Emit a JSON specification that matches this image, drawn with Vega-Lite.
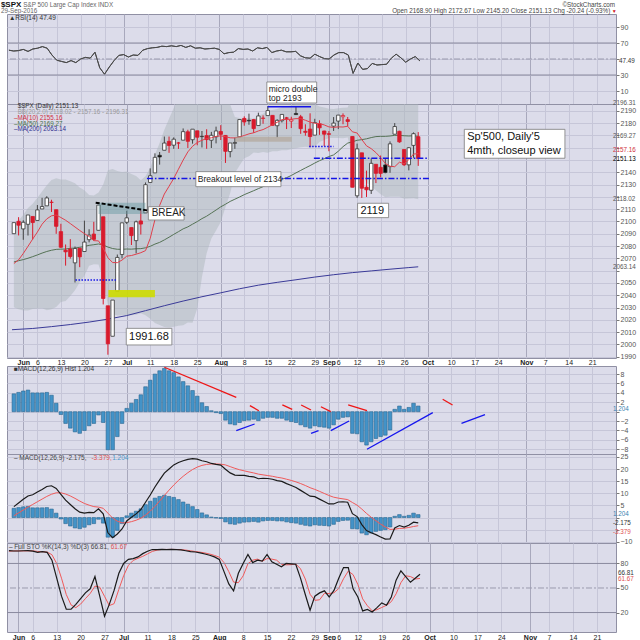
{
"$schema":"https://vega.github.io/schema/vega-lite/v6.json",
"padding":0,
"background":"white",
"datasets":{
"px":[
{"d":-2,"o":2090.06,"h":2099.06,"l":2090.06,"c":2099.06,"dir":"up","ma10":2065.8,"bbl":2030.2,"bbu":2097.7,"ma50":2067.1,"rsi":61,"hist":3.8,"macd":4.5,"sig":0.7,"k":95.6,"dk":95.0},
{"d":-1,"o":2100.13,"h":2103.48,"l":2088.66,"c":2096.95,"dir":"dn","ma10":2068.8,"bbl":2028.7,"bbu":2100.8,"ma50":2068.1,"rsi":60,"hist":4.1,"macd":6.0,"sig":1.9,"k":95.2,"dk":95.3},
{"d":0,"o":2093.94,"h":2100.97,"l":2085.10,"c":2099.33,"dir":"up","ma10":2074.0,"bbl":2027.6,"bbu":2105.5,"ma50":2069.0,"rsi":60.5,"hist":4.4,"macd":7.5,"sig":3.1,"k":95.2,"dk":95.3},
{"d":1,"o":2097.71,"h":2105.26,"l":2088.59,"c":2105.26,"dir":"up","ma10":2079.8,"bbl":2027.6,"bbu":2110.9,"ma50":2070.1,"rsi":62,"hist":4.6,"macd":8.9,"sig":4.3,"k":95.5,"dk":95.3},
{"d":2,"o":2104.07,"h":2104.07,"l":2085.36,"c":2099.13,"dir":"dn","ma10":2085.7,"bbl":2028.9,"bbu":2114.4,"ma50":2071.4,"rsi":59.5,"hist":4.0,"macd":9.4,"sig":5.4,"k":95.6,"dk":95.4},
{"d":3,"o":2100.83,"h":2113.36,"l":2100.83,"c":2109.41,"dir":"up","ma10":2091.4,"bbl":2029.2,"bbu":2119.3,"ma50":2072.8,"rsi":62.5,"hist":4.0,"macd":10.5,"sig":6.5,"k":95.0,"dk":95.4},
{"d":4,"o":2110.18,"h":2119.22,"l":2110.18,"c":2112.13,"dir":"up","ma10":2097.8,"bbl":2029.5,"bbu":2124.3,"ma50":2074.3,"rsi":63.5,"hist":4.0,"macd":11.6,"sig":7.6,"k":93.6,"dk":94.7},
{"d":5,"o":2112.71,"h":2120.55,"l":2112.71,"c":2119.12,"dir":"up","ma10":2102.1,"bbl":2027.9,"bbu":2129.4,"ma50":2075.6,"rsi":65.5,"hist":4.1,"macd":12.8,"sig":8.7,"k":94.4,"dk":94.3},
{"d":6,"o":2115.65,"h":2117.64,"l":2107.73,"c":2115.48,"dir":"dn","ma10":2104.6,"bbl":2028.6,"bbu":2133.8,"ma50":2076.6,"rsi":63.5,"hist":3.5,"macd":13.1,"sig":9.6,"k":93.6,"dk":93.9},
{"d":7,"o":2109.57,"h":2109.57,"l":2089.96,"c":2096.07,"dir":"dn","ma10":2105.2,"bbl":2030.4,"bbu":2135.2,"ma50":2077.3,"rsi":55,"hist":1.8,"macd":12.0,"sig":10.2,"k":84,"dk":90.7},
{"d":8,"o":2091.75,"h":2098.12,"l":2078.46,"c":2079.06,"dir":"dn","ma10":2103.2,"bbl":2034.6,"bbu":2134.2,"ma50":2077.5,"rsi":48.5,"hist":-0.6,"macd":9.6,"sig":10.2,"k":62,"dk":79.9},
{"d":9,"o":2076.65,"h":2081.30,"l":2064.10,"c":2075.32,"dir":"dn","ma10":2101.0,"bbl":2035.4,"bbu":2134.2,"ma50":2077.6,"rsi":47,"hist":-2.5,"macd":7.2,"sig":9.7,"k":40,"dk":62},
{"d":10,"o":2077.60,"h":2085.65,"l":2069.80,"c":2071.50,"dir":"dn","ma10":2098.3,"bbl":2039.4,"bbu":2132.7,"ma50":2078.2,"rsi":45.5,"hist":-3.5,"macd":5.4,"sig":8.9,"k":24,"dk":42},
{"d":11,"o":2066.36,"h":2079.62,"l":2050.37,"c":2077.99,"dir":"up","ma10":2095.5,"bbl":2044.1,"bbu":2131.1,"ma50":2078.4,"rsi":48,"hist":-4.3,"macd":3.6,"sig":7.9,"k":24,"dk":29.3},
{"d":12,"o":2078.20,"h":2078.20,"l":2062.84,"c":2071.22,"dir":"dn","ma10":2092.7,"bbl":2050.6,"bbu":2127.6,"ma50":2079.0,"rsi":45.5,"hist":-4.6,"macd":2.2,"sig":6.8,"k":30,"dk":26},
{"d":13,"o":2075.58,"h":2100.66,"l":2075.58,"c":2083.25,"dir":"up","ma10":2090.1,"bbl":2055.9,"bbu":2125.4,"ma50":2079.7,"rsi":50,"hist":-4.0,"macd":1.8,"sig":5.8,"k":37,"dk":30.3},
{"d":14,"o":2085.19,"h":2093.66,"l":2083.02,"c":2088.90,"dir":"up","ma10":2087.8,"bbl":2063.9,"bbu":2121.5,"ma50":2080.6,"rsi":52,"hist":-3.0,"macd":2.1,"sig":5.1,"k":44,"dk":37},
{"d":15,"o":2089.75,"h":2099.71,"l":2084.36,"c":2085.45,"dir":"dn","ma10":2084.4,"bbl":2065.2,"bbu":2121.1,"ma50":2081.1,"rsi":51,"hist":-2.5,"macd":2.0,"sig":4.5,"k":49,"dk":43.3},
{"d":16,"o":2092.80,"h":2113.32,"l":2092.80,"c":2113.32,"dir":"up","ma10":2084.2,"bbl":2065.0,"bbu":2123.5,"ma50":2081.7,"rsi":58.5,"hist":-0.7,"macd":3.6,"sig":4.3,"k":64,"dk":52.3},
{"d":17,"o":2103.81,"h":2103.81,"l":2032.57,"c":2037.41,"dir":"dn","ma10":2078.3,"bbl":2053.1,"bbu":2130.1,"ma50":2080.8,"rsi":39,"hist":-2.3,"macd":1.5,"sig":3.8,"k":40,"dk":51},
{"d":18,"o":2031.45,"h":2031.45,"l":1991.68,"c":2000.54,"dir":"dn","ma10":2070.5,"bbl":2031.8,"bbu":2141.6,"ma50":2079.2,"rsi":31,"hist":-8.1,"macd":-6.3,"sig":1.8,"k":15.5,"dk":39.8},
{"d":19,"o":2006.67,"h":2036.09,"l":2006.67,"c":2036.09,"dir":"up","ma10":2066.6,"bbl":2024.7,"bbu":2142.6,"ma50":2078.0,"rsi":40,"hist":-8.1,"macd":-8.3,"sig":-0.2,"k":30,"dk":28.5},
{"d":20,"o":2043.29,"h":2073.13,"l":2043.29,"c":2070.77,"dir":"up","ma10":2066.5,"bbl":2023.5,"bbu":2141.0,"ma50":2077.4,"rsi":48,"hist":-5.3,"macd":-6.8,"sig":-1.5,"k":47,"dk":30.8},
{"d":21,"o":2073.17,"h":2098.94,"l":2070.00,"c":2098.86,"dir":"up","ma10":2068.6,"bbl":2023.7,"bbu":2140.3,"ma50":2077.4,"rsi":54.5,"hist":-2.5,"macd":-4.7,"sig":-2.2,"k":68,"dk":48.3},
{"d":22,"o":2099.34,"h":2108.71,"l":2097.90,"c":2102.95,"dir":"up","ma10":2071.8,"bbl":2023.6,"bbu":2140.7,"ma50":2077.6,"rsi":55.5,"hist":0.7,"macd":-1.4,"sig":-2.1,"k":80,"dk":65},
{"d":23,"o":2095.05,"h":2095.05,"l":2080.86,"c":2088.55,"dir":"dn","ma10":2072.3,"bbl":2023.8,"bbu":2138.5,"ma50":2077.5,"rsi":52.5,"hist":1.8,"macd":0.1,"sig":-1.7,"k":85,"dk":77.7},
{"d":24,"o":2084.43,"h":2100.72,"l":2074.02,"c":2099.73,"dir":"up","ma10":2073.4,"bbl":2024.2,"bbu":2136.9,"ma50":2077.8,"rsi":55,"hist":2.6,"macd":1.5,"sig":-1.1,"k":86,"dk":83.7},
{"d":25,"o":2100.42,"h":2109.08,"l":2089.39,"c":2097.90,"dir":"dn","ma10":2074.6,"bbl":2025.4,"bbu":2133.6,"ma50":2077.9,"rsi":54.5,"hist":3.6,"macd":3.3,"sig":-0.3,"k":88,"dk":86.3},
{"d":26,"o":2106.97,"h":2131.71,"l":2106.97,"c":2129.90,"dir":"up","ma10":2076.3,"bbl":2023.8,"bbu":2136.7,"ma50":2078.6,"rsi":61,"hist":5.3,"macd":6.3,"sig":1.0,"k":92,"dk":88.7},
{"d":27,"o":2131.72,"h":2143.16,"l":2131.72,"c":2137.16,"dir":"up","ma10":2086.3,"bbl":2020.9,"bbu":2143.7,"ma50":2079.8,"rsi":63,"hist":6.7,"macd":9.3,"sig":2.6,"k":95,"dk":91.7},
{"d":28,"o":2139.50,"h":2155.40,"l":2139.50,"c":2152.14,"dir":"up","ma10":2101.4,"bbl":2017.5,"bbu":2154.4,"ma50":2081.6,"rsi":64,"hist":8.0,"macd":12.6,"sig":4.6,"k":97,"dk":94.7},
{"d":29,"o":2153.81,"h":2156.45,"l":2146.21,"c":2152.43,"dir":"up","ma10":2113.0,"bbl":2015.8,"bbu":2163.8,"ma50":2083.0,"rsi":64.5,"hist":8.7,"macd":15.5,"sig":6.8,"k":97,"dk":96.3},
{"d":30,"o":2157.88,"h":2169.05,"l":2157.88,"c":2163.75,"dir":"up","ma10":2122.3,"bbl":2014.3,"bbu":2174.5,"ma50":2085.0,"rsi":66,"hist":9.2,"macd":18.3,"sig":9.1,"k":97.3,"dk":97.1},
{"d":31,"o":2165.13,"h":2169.05,"l":2155.79,"c":2161.74,"dir":"dn","ma10":2128.6,"bbl":2013.7,"bbu":2183.5,"ma50":2087.2,"rsi":65.5,"hist":8.7,"macd":20.0,"sig":11.3,"k":97,"dk":97.1},
{"d":32,"o":2162.04,"h":2168.35,"l":2159.07,"c":2166.89,"dir":"up","ma10":2135.0,"bbl":2014.5,"bbu":2192.3,"ma50":2089.5,"rsi":66.5,"hist":8.3,"macd":21.7,"sig":13.4,"k":97.3,"dk":97.2},
{"d":33,"o":2163.79,"h":2164.63,"l":2159.01,"c":2163.78,"dir":"dn","ma10":2142.5,"bbl":2015.3,"bbu":2199.6,"ma50":2091.7,"rsi":65.5,"hist":7.4,"macd":22.7,"sig":15.3,"k":97,"dk":97.1},
{"d":34,"o":2166.10,"h":2175.63,"l":2166.10,"c":2173.02,"dir":"up","ma10":2149.9,"bbl":2015.7,"bbu":2207.6,"ma50":2094.0,"rsi":67,"hist":6.4,"macd":23.4,"sig":17.0,"k":96.5,"dk":96.9},
{"d":35,"o":2172.91,"h":2174.56,"l":2159.75,"c":2165.17,"dir":"dn","ma10":2156.6,"bbl":2017.8,"bbu":2213.5,"ma50":2095.6,"rsi":64.5,"hist":5.5,"macd":24.0,"sig":18.5,"k":95.5,"dk":96.3},
{"d":36,"o":2166.47,"h":2175.11,"l":2163.24,"c":2175.03,"dir":"up","ma10":2161.1,"bbl":2017.6,"bbu":2219.9,"ma50":2097.8,"rsi":66.5,"hist":4.5,"macd":24.3,"sig":19.8,"k":94.4,"dk":95.5},
{"d":37,"o":2173.71,"h":2173.71,"l":2161.95,"c":2168.48,"dir":"dn","ma10":2164.2,"bbl":2029.3,"bbu":2221.3,"ma50":2099.9,"rsi":63.5,"hist":3.3,"macd":24.1,"sig":20.8,"k":94,"dk":94.6},
{"d":38,"o":2168.97,"h":2173.54,"l":2160.18,"c":2169.18,"dir":"up","ma10":2166.0,"bbl":2054.8,"bbu":2212.6,"ma50":2102.3,"rsi":64,"hist":1.9,"macd":23.4,"sig":21.5,"k":93,"dk":93.8},
{"d":39,"o":2169.81,"h":2174.98,"l":2159.07,"c":2166.58,"dir":"dn","ma10":2167.4,"bbl":2074.2,"bbu":2206.3,"ma50":2104.3,"rsi":62.5,"hist":1.1,"macd":23.0,"sig":21.9,"k":91.5,"dk":92.8},
{"d":40,"o":2166.05,"h":2172.85,"l":2159.74,"c":2170.06,"dir":"up","ma10":2168.0,"bbl":2086.2,"bbu":2204.2,"ma50":2106.8,"rsi":63,"hist":0.2,"macd":22.3,"sig":22.1,"k":90,"dk":91.5},
{"d":41,"o":2168.83,"h":2177.09,"l":2163.49,"c":2173.60,"dir":"up","ma10":2169.2,"bbl":2092.7,"bbu":2205.2,"ma50":2109.3,"rsi":63.5,"hist":-0.2,"macd":21.9,"sig":22.1,"k":88,"dk":89.8},
{"d":42,"o":2173.15,"h":2178.29,"l":2166.21,"c":2170.84,"dir":"dn","ma10":2169.6,"bbl":2099.5,"bbu":2205.2,"ma50":2111.9,"rsi":62,"hist":-0.4,"macd":21.6,"sig":22.0,"k":85,"dk":87.7},
{"d":43,"o":2169.94,"h":2170.20,"l":2147.58,"c":2157.03,"dir":"dn","ma10":2168.9,"bbl":2111.6,"bbu":2199.9,"ma50":2114.0,"rsi":56.5,"hist":-1.8,"macd":19.9,"sig":21.7,"k":70,"dk":81},
{"d":44,"o":2156.81,"h":2163.79,"l":2152.14,"c":2163.79,"dir":"up","ma10":2168.0,"bbl":2122.9,"bbu":2195.1,"ma50":2116.3,"rsi":58,"hist":-2.6,"macd":18.4,"sig":21.0,"k":55,"dk":70},
{"d":45,"o":2163.51,"h":2168.19,"l":2159.07,"c":2164.25,"dir":"up","ma10":2167.9,"bbl":2139.4,"bbu":2184.9,"ma50":2118.1,"rsi":58.5,"hist":-2.8,"macd":17.5,"sig":20.3,"k":46.5,"dk":57.2},
{"d":46,"o":2168.79,"h":2182.87,"l":2168.79,"c":2182.87,"dir":"up","ma10":2168.7,"bbl":2145.6,"bbu":2184.2,"ma50":2119.9,"rsi":63,"hist":-2.3,"macd":17.4,"sig":19.7,"k":68,"dk":56.5},
{"d":47,"o":2183.76,"h":2185.44,"l":2177.85,"c":2180.89,"dir":"dn","ma10":2169.9,"bbl":2151.3,"bbu":2182.9,"ma50":2121.8,"rsi":62,"hist":-1.9,"macd":17.35,"sig":19.25,"k":80,"dk":64.8},
{"d":48,"o":2182.24,"h":2187.66,"l":2178.61,"c":2181.74,"dir":"up","ma10":2171.2,"bbl":2153.1,"bbu":2184.1,"ma50":2123.4,"rsi":62.5,"hist":-1.8,"macd":17.0,"sig":18.8,"k":91,"dk":79.7},
{"d":49,"o":2182.81,"h":2183.41,"l":2172.00,"c":2175.49,"dir":"dn","ma10":2172.1,"bbl":2156.1,"bbu":2183.4,"ma50":2125.0,"rsi":60,"hist":-1.6,"macd":16.8,"sig":18.4,"k":81,"dk":84},
{"d":50,"o":2177.97,"h":2188.45,"l":2177.97,"c":2185.79,"dir":"up","ma10":2173.6,"bbl":2155.7,"bbu":2186.0,"ma50":2126.7,"rsi":64,"hist":-1.9,"macd":16.0,"sig":17.9,"k":84,"dk":85.3},
{"d":51,"o":2183.74,"h":2186.28,"l":2179.42,"c":2184.05,"dir":"dn","ma10":2174.7,"bbl":2156.4,"bbu":2187.5,"ma50":2128.3,"rsi":63,"hist":-1.4,"macd":16.2,"sig":17.6,"k":83,"dk":82.7},
{"d":52,"o":2186.08,"h":2193.81,"l":2186.08,"c":2190.15,"dir":"up","ma10":2176.6,"bbl":2155.9,"bbu":2190.3,"ma50":2130.1,"rsi":64.5,"hist":-1.2,"macd":16.1,"sig":17.3,"k":91,"dk":86},
{"d":53,"o":2186.24,"h":2186.24,"l":2178.14,"c":2178.15,"dir":"dn","ma10":2178.7,"bbl":2157.0,"bbu":2190.6,"ma50":2131.5,"rsi":58,"hist":-1.2,"macd":15.8,"sig":17.0,"k":82,"dk":85.3},
{"d":54,"o":2177.84,"h":2183.08,"l":2168.50,"c":2182.22,"dir":"up","ma10":2180.6,"bbl":2157.0,"bbu":2191.5,"ma50":2132.9,"rsi":60,"hist":-1.4,"macd":15.2,"sig":16.6,"k":79,"dk":84},
{"d":55,"o":2181.90,"h":2187.03,"l":2180.46,"c":2187.02,"dir":"up","ma10":2182.8,"bbl":2157.8,"bbu":2192.9,"ma50":2134.3,"rsi":61,"hist":-1.4,"macd":14.9,"sig":16.3,"k":76,"dk":79},
{"d":56,"o":2184.24,"h":2185.00,"l":2175.13,"c":2183.87,"dir":"dn","ma10":2182.9,"bbl":2157.9,"bbu":2193.7,"ma50":2135.6,"rsi":59,"hist":-1.8,"macd":14.0,"sig":15.8,"k":80,"dk":78.3},
{"d":57,"o":2181.58,"h":2185.15,"l":2175.96,"c":2182.64,"dir":"dn","ma10":2183.1,"bbl":2158.8,"bbu":2194.3,"ma50":2137.4,"rsi":59,"hist":-2.1,"macd":13.2,"sig":15.3,"k":79.5,"dk":78.5},
{"d":58,"o":2187.81,"h":2193.42,"l":2186.80,"c":2186.90,"dir":"up","ma10":2183.6,"bbl":2159.5,"bbu":2195.4,"ma50":2139.5,"rsi":59.5,"hist":-2.3,"macd":12.4,"sig":14.7,"k":79,"dk":79.5},
{"d":59,"o":2185.09,"h":2186.66,"l":2171.25,"c":2175.44,"dir":"dn","ma10":2183.6,"bbl":2160.4,"bbu":2195.3,"ma50":2141.5,"rsi":54,"hist":-2.8,"macd":11.2,"sig":14.0,"k":62,"dk":73.5},
{"d":60,"o":2173.29,"h":2179.00,"l":2169.74,"c":2172.47,"dir":"dn","ma10":2182.3,"bbl":2160.7,"bbu":2195.2,"ma50":2143.5,"rsi":51.5,"hist":-3.2,"macd":10.0,"sig":13.2,"k":42,"dk":61},
{"d":61,"o":2175.10,"h":2187.94,"l":2160.39,"c":2169.04,"dir":"dn","ma10":2180.8,"bbl":2160.1,"bbu":2195.3,"ma50":2145.4,"rsi":51,"hist":-3.5,"macd":8.8,"sig":12.3,"k":22.8,"dk":42.3},
{"d":62,"o":2170.19,"h":2183.48,"l":2170.19,"c":2180.38,"dir":"up","ma10":2179.8,"bbl":2160.8,"bbu":2195.5,"ma50":2147.5,"rsi":56,"hist":-3.0,"macd":8.6,"sig":11.6,"k":40,"dk":34.9},
{"d":63,"o":2179.45,"h":2182.27,"l":2170.41,"c":2176.12,"dir":"dn","ma10":2179.6,"bbl":2164.7,"bbu":2193.5,"ma50":2149.4,"rsi":53,"hist":-3.2,"macd":7.6,"sig":10.8,"k":44,"dk":35.6},
{"d":64,"o":2173.56,"h":2173.79,"l":2161.35,"c":2170.95,"dir":"dn","ma10":2178.5,"bbl":2166.2,"bbu":2192.7,"ma50":2151.0,"rsi":50.5,"hist":-3.3,"macd":6.65,"sig":9.95,"k":46.5,"dk":43.5},
{"d":65,"o":2171.33,"h":2173.56,"l":2157.09,"c":2170.86,"dir":"dn","ma10":2176.9,"bbl":2167.9,"bbu":2191.7,"ma50":2152.8,"rsi":50,"hist":-3.5,"macd":5.6,"sig":9.1,"k":39,"dk":43.2},
{"d":66,"o":2177.49,"h":2184.87,"l":2173.59,"c":2179.98,"dir":"up","ma10":2176.5,"bbl":2167.8,"bbu":2191.5,"ma50":2154.1,"rsi":55,"hist":-2.8,"macd":5.6,"sig":8.4,"k":47,"dk":44.2},
{"d":67,"o":2181.61,"h":2186.57,"l":2175.10,"c":2186.48,"dir":"up","ma10":2176.9,"bbl":2167.8,"bbu":2192.0,"ma50":2157.1,"rsi":58,"hist":-1.6,"macd":6.4,"sig":8.0,"k":62,"dk":49.3},
{"d":68,"o":2185.17,"h":2187.87,"l":2179.07,"c":2186.16,"dir":"dn","ma10":2176.8,"bbl":2167.7,"bbu":2192.5,"ma50":2160.8,"rsi":58,"hist":-1.2,"macd":6.5,"sig":7.7,"k":75,"dk":61.3},
{"d":69,"o":2182.76,"h":2184.94,"l":2177.49,"c":2181.30,"dir":"dn","ma10":2177.4,"bbl":2168.2,"bbu":2192.6,"ma50":2163.7,"rsi":55,"hist":-1.1,"macd":6.3,"sig":7.4,"k":75,"dk":70.7},
{"d":70,"o":2169.08,"h":2169.08,"l":2127.81,"c":2127.81,"dir":"dn","ma10":2172.9,"bbl":2151.9,"bbu":2203.1,"ma50":2164.8,"rsi":32,"hist":-4.6,"macd":1.6,"sig":6.2,"k":49,"dk":66.3},
{"d":71,"o":2120.86,"h":2163.30,"l":2119.12,"c":2159.04,"dir":"up","ma10":2171.9,"bbl":2149.6,"bbu":2202.9,"ma50":2166.0,"rsi":45,"hist":-4.7,"macd":0.4,"sig":5.1,"k":39,"dk":54.3},
{"d":72,"o":2155.81,"h":2155.81,"l":2119.12,"c":2127.02,"dir":"dn","ma10":2166.6,"bbl":2139.7,"bbu":2206.5,"ma50":2166.5,"rsi":37,"hist":-6.4,"macd":-2.9,"sig":3.5,"k":22,"dk":36.7},
{"d":73,"o":2127.86,"h":2141.33,"l":2119.90,"c":2125.77,"dir":"dn","ma10":2161.5,"bbl":2131.4,"bbu":2209.6,"ma50":2167.2,"rsi":38,"hist":-7.1,"macd":-5.4,"sig":1.7,"k":23.7,"dk":28.2},
{"d":74,"o":2125.36,"h":2151.31,"l":2122.36,"c":2147.26,"dir":"up","ma10":2159.2,"bbl":2128.7,"bbu":2208.8,"ma50":2168.2,"rsi":44.5,"hist":-6.4,"macd":-6.3,"sig":0.1,"k":20.7,"dk":22.1},
{"d":75,"o":2146.48,"h":2146.48,"l":2131.20,"c":2139.16,"dir":"dn","ma10":2156.0,"bbl":2125.3,"bbu":2207.5,"ma50":2169.0,"rsi":42.5,"hist":-5.7,"macd":-7.05,"sig":-1.35,"k":26,"dk":23.5},
{"d":76,"o":2143.99,"h":2153.61,"l":2135.91,"c":2139.12,"dir":"dn","ma10":2151.9,"bbl":2122.2,"bbu":2206.0,"ma50":2169.2,"rsi":43,"hist":-5.3,"macd":-8.0,"sig":-2.7,"k":31.8,"dk":26.2},
{"d":77,"o":2145.94,"h":2150.80,"l":2139.17,"c":2139.76,"dir":"up","ma10":2147.2,"bbl":2119.7,"bbu":2204.2,"ma50":2169.2,"rsi":43.4,"hist":-5.0,"macd":-8.9,"sig":-3.9,"k":29,"dk":28.9},
{"d":78,"o":2144.58,"h":2165.11,"l":2139.57,"c":2163.12,"dir":"up","ma10":2144.9,"bbl":2120.1,"bbu":2201.4,"ma50":2169.5,"rsi":51,"hist":-3.9,"macd":-8.8,"sig":-4.9,"k":39,"dk":33.3},
{"d":79,"o":2170.94,"h":2179.99,"l":2170.94,"c":2177.18,"dir":"up","ma10":2144.5,"bbl":2120.0,"bbu":2201.7,"ma50":2170.0,"rsi":56,"hist":0.5,"macd":-4.3,"sig":-4.8,"k":59.6,"dk":42.9},
{"d":80,"o":2173.29,"h":2173.75,"l":2163.97,"c":2164.69,"dir":"dn","ma10":2148.2,"bbl":2120.0,"bbu":2201.0,"ma50":2170.0,"rsi":51.5,"hist":1.2,"macd":-3.3,"sig":-4.5,"k":71,"dk":56.5},
{"d":81,"o":2158.54,"h":2158.54,"l":2145.04,"c":2146.10,"dir":"dn","ma10":2146.9,"bbl":2118.5,"bbu":2200.2,"ma50":2169.7,"rsi":46,"hist":0.5,"macd":-3.9,"sig":-4.4,"k":64,"dk":64.9},
{"d":82,"o":2146.04,"h":2160.39,"l":2141.55,"c":2159.93,"dir":"up","ma10":2150.2,"bbl":2118.7,"bbu":2198.0,"ma50":2169.5,"rsi":50,"hist":0.9,"macd":-3.2,"sig":-4.1,"k":57,"dk":64},
{"d":83,"o":2161.85,"h":2172.40,"l":2151.79,"c":2171.37,"dir":"up","ma10":2154.8,"bbl":2118.8,"bbu":2197.4,"ma50":2169.7,"rsi":53,"hist":1.8,"macd":-1.9,"sig":-3.7,"k":62,"dk":61},
{"d":84,"o":2168.90,"h":2172.67,"l":2145.20,"c":2151.13,"dir":"dn","ma10":2155.16,"bbl":2118.02,"bbu":2196.31,"ma50":2169.27,"rsi":47.49,"hist":1.204,"macd":-2.175,"sig":-3.379,"k":66.81,"dk":61.67}
],
"ma200":[
{"d":-2.4,"v":2012.0},{"d":2,"v":2013.0},{"d":6,"v":2014.5},{"d":10,"v":2016.2},{"d":14,"v":2018.2},{"d":18,"v":2020.6},{"d":22,"v":2023.5},{"d":26,"v":2027.5},{"d":30,"v":2031.5},{"d":34,"v":2035.3},{"d":38,"v":2038.8},{"d":42,"v":2042.0},{"d":46,"v":2045.3},{"d":50,"v":2048.2},{"d":54,"v":2050.5},{"d":58,"v":2052.6},{"d":62,"v":2054.8},{"d":66,"v":2056.7},{"d":70,"v":2058.4},{"d":74,"v":2059.8},{"d":78,"v":2061.2},{"d":82,"v":2062.5},{"d":84,"v":2063.14}
]
},
"vconcat":[
{
"width":609,"height":90,
"resolve":{"axis":{"x":"independent","y":"independent"}},
"layer":[
{"data":{"name":"px"},"mark":{"type":"line","color":"#4a4a4a","strokeWidth":1,"clip":true},
 "encoding":{
  "x":{"field":"d","type":"quantitative","scale":{"domain":[-2.4,125],"nice":false,"zero":false},"axis":{"values":[0,3,8,13,18,22,27,32,37,42,47,52,57,62,65,67,71,76,81,86,91,96,101,107,111,116,121],"labels":false,"ticks":false,"domain":false,"grid":true,"gridColor":{"condition":{"test":"indexof([0,22,42,65,86,107],datum.value)>=0","value":"#a8a8bc"},"value":"#c6c6d8"},"title":null}},
  "y":{"field":"rsi","type":"quantitative","scale":{"domain":[-6.25,106.25],"nice":false,"zero":false},"axis":{"orient":"right","values":[10,30,50,70,90],"labelExpr":"datum.value==50 ? '' : datum.label","labelOverlap":false,"labelFontSize":7,"labelColor":"#555555","labelPadding":1,"tickSize":3,"tickColor":"#777777","domain":false,"grid":true,"gridColor":"#c6c6d8","title":null}}}},
{"data":{"values":[{"v":70},{"v":30}]},"mark":{"type":"rule","color":"#8a8a9e","strokeWidth":1},
 "encoding":{"y":{"field":"v","type":"quantitative","scale":{"domain":[-6.25,106.25],"nice":false,"zero":false},"axis":null}}},
{"data":{"values":[{"v":50}]},"mark":{"type":"rule","color":"#9a9aae","strokeWidth":1,"strokeDash":[6,2,2,2]},
 "encoding":{"y":{"field":"v","type":"quantitative","scale":{"domain":[-6.25,106.25],"nice":false,"zero":false},"axis":null}}},
{"data":{"name":"px"},"mark":{"type":"line","color":"#4a4a4a","strokeWidth":1,"clip":true},
 "encoding":{"x":{"field":"d","type":"quantitative","scale":{"domain":[-2.4,125],"nice":false,"zero":false},"axis":null},"y":{"field":"rsi","type":"quantitative","scale":{"domain":[-6.25,106.25],"nice":false,"zero":false},"axis":null}}},
{"data":{"values":[{"d":-2.0,"v":101.5,"t":"▲RSI(14) 47.49"}]},"mark":{"type":"text","align":"left","baseline":"middle","fontSize":6.5,"color":"#333"},
 "encoding":{"x":{"field":"d","type":"quantitative","scale":{"domain":[-2.4,125],"nice":false,"zero":false},"axis":null},"y":{"field":"v","type":"quantitative","scale":{"domain":[-6.25,106.25],"nice":false,"zero":false},"axis":null},"text":{"field":"t"}}},
{"data":{"values":[{"d":125,"v":47.49,"t":"47.49"}]},"mark":{"type":"text","align":"left","baseline":"middle","fontSize":6.3,"color":"#333","dx":3},
 "encoding":{"x":{"field":"d","type":"quantitative","scale":{"domain":[-2.4,125],"nice":false,"zero":false},"axis":null},"y":{"field":"v","type":"quantitative","scale":{"domain":[-6.25,106.25],"nice":false,"zero":false},"axis":null},"text":{"field":"t"}}},
{"data":{"values":[{"d":-3.68,"v":117.5,"t":"$SPX"}]},"mark":{"type":"text","align":"left","baseline":"middle","fontSize":8,"fontWeight":"bold","color":"#111"},
 "encoding":{"x":{"field":"d","type":"quantitative","scale":{"domain":[-2.4,125],"nice":false,"zero":false},"axis":null},"y":{"field":"v","type":"quantitative","scale":{"domain":[-6.25,106.25],"nice":false,"zero":false},"axis":null},"text":{"field":"t"}}},
{"data":{"values":[{"d":1.0,"v":117.5,"t":"S&P 500 Large Cap Index  INDX"},{"d":-3.68,"v":109.4,"t":"29-Sep-2016"}]},"mark":{"type":"text","align":"left","baseline":"middle","fontSize":6.3,"color":"#666"},
 "encoding":{"x":{"field":"d","type":"quantitative","scale":{"domain":[-2.4,125],"nice":false,"zero":false},"axis":null},"y":{"field":"v","type":"quantitative","scale":{"domain":[-6.25,106.25],"nice":false,"zero":false},"axis":null},"text":{"field":"t"}}},
{"data":{"values":[{"d":124.8,"v":118.1,"t":"©StockCharts.com"},{"d":123.8,"v":109.4,"t":"Open 2168.90  High 2172.67  Low 2145.20  Close 2151.13  Chg -20.24 (-0.93%)"}]},"mark":{"type":"text","align":"right","baseline":"middle","fontSize":6.3,"color":"#444"},
 "encoding":{"x":{"field":"d","type":"quantitative","scale":{"domain":[-2.4,125],"nice":false,"zero":false},"axis":null},"y":{"field":"v","type":"quantitative","scale":{"domain":[-6.25,106.25],"nice":false,"zero":false},"axis":null},"text":{"field":"t"}}},
{"data":{"values":[{"d":124.1,"v":109.4,"t":"▼"}]},"mark":{"type":"text","align":"left","baseline":"middle","fontSize":5,"color":"#d01020"},
 "encoding":{"x":{"field":"d","type":"quantitative","scale":{"domain":[-2.4,125],"nice":false,"zero":false},"axis":null},"y":{"field":"v","type":"quantitative","scale":{"domain":[-6.25,106.25],"nice":false,"zero":false},"axis":null},"text":{"field":"t"}}}
]
},
{
"width":609,"height":254,
"resolve":{"axis":{"x":"independent","y":"independent"}},
"layer":[
{"data":{"name":"px"},"mark":{"type":"area","color":"#a8b4b8","opacity":0.45,"clip":true},
 "encoding":{
  "x":{"field":"d","type":"quantitative","scale":{"domain":[-2.4,125],"nice":false,"zero":false},"axis":{"orient":"bottom","values":[0,3,8,13,18,22,27,32,37,42,47,52,57,62,65,67,71,76,81,86,91,96,101,107,111,116,121],"labelExpr":"['Jun','6','13','20','27','Jul','11','18','25','Aug','8','15','22','29','Sep','6','12','19','26','Oct','10','17','24','Nov','7','14','21'][indexof([0,3,8,13,18,22,27,32,37,42,47,52,57,62,65,67,71,76,81,86,91,96,101,107,111,116,121],datum.value)]","labelFontSize":7,"labelFontWeight":{"condition":{"test":"indexof([0,22,42,65,86,107],datum.value)>=0","value":"bold"},"value":"normal"},"labelColor":"#222222","labelPadding":0,"labelOverlap":false,"labelFlush":false,"ticks":false,"domain":false,"grid":true,"gridColor":{"condition":{"test":"indexof([0,22,42,65,86,107],datum.value)>=0","value":"#a8a8bc"},"value":"#c6c6d8"},"title":null}},
  "y":{"field":"bbl","type":"quantitative","scale":{"domain":[1989,2195.5],"nice":false,"zero":false},"axis":{"orient":"right","values":[1990,2000,2010,2020,2030,2040,2050,2060,2070,2080,2090,2100,2110,2120,2130,2140,2150,2160,2170,2180,2190],"format":"d","labelExpr":"indexof([2060,2120,2150,2160,2170],datum.value)>=0 ? '' : datum.label","labelOverlap":false,"labelFontSize":7,"labelColor":"#555555","labelPadding":1,"tickSize":3,"tickColor":"#777777","domain":false,"grid":true,"gridColor":"#c6c6d8","title":null}},
  "y2":{"field":"bbu"}}},
{"data":{"name":"ma200"},"mark":{"type":"line","color":"#3a3a98","strokeWidth":1,"clip":true},
 "encoding":{"x":{"field":"d","type":"quantitative","scale":{"domain":[-2.4,125],"nice":false,"zero":false},"axis":null},"y":{"field":"v","type":"quantitative","scale":{"domain":[1989,2195.5],"nice":false,"zero":false},"axis":null}}},
{"data":{"name":"px"},"mark":{"type":"line","color":"#557255","strokeWidth":1,"clip":true},
 "encoding":{"x":{"field":"d","type":"quantitative","scale":{"domain":[-2.4,125],"nice":false,"zero":false},"axis":null},"y":{"field":"ma50","type":"quantitative","scale":{"domain":[1989,2195.5],"nice":false,"zero":false},"axis":null}}},
{"data":{"name":"px"},"mark":{"type":"rule","strokeWidth":1},
 "encoding":{"x":{"field":"d","type":"quantitative","scale":{"domain":[-2.4,125],"nice":false,"zero":false},"axis":null},"y":{"field":"l","type":"quantitative","scale":{"domain":[1989,2195.5],"nice":false,"zero":false},"axis":null},"y2":{"field":"h"},
  "color":{"condition":{"test":"datum.dir=='dn'","value":"#d81a2c"},"value":"#444444"}}},
{"data":{"name":"px"},"mark":{"type":"bar","size":3.4,"strokeWidth":0.8},
 "encoding":{"x":{"field":"d","type":"quantitative","scale":{"domain":[-2.4,125],"nice":false,"zero":false},"axis":null},"y":{"field":"o","type":"quantitative","scale":{"domain":[1989,2195.5],"nice":false,"zero":false},"axis":null},"y2":{"field":"c"},
  "fill":{"condition":[{"test":"datum.c>=datum.o","value":"#ffffff"},{"test":"datum.dir=='dn'","value":"#d81a2c"}],"value":"#000000"},
  "stroke":{"condition":{"test":"datum.dir=='dn'","value":"#d81a2c"},"value":"#333333"}}},
{"data":{"name":"px"},"mark":{"type":"line","color":"#e0404c","strokeWidth":1,"clip":true},
 "encoding":{"x":{"field":"d","type":"quantitative","scale":{"domain":[-2.4,125],"nice":false,"zero":false},"axis":null},"y":{"field":"ma10","type":"quantitative","scale":{"domain":[1989,2195.5],"nice":false,"zero":false},"axis":null}}},
{"data":{"values":[{"x1":16,"x2":26,"p1":2115.3,"p2":2106.1,"kind":"break"},{"x1":18.1,"x2":28,"p1":2044.3,"p2":2038.3,"kind":"gap"},{"x1":45.1,"x2":57.1,"p1":2168.9,"p2":2164.8,"kind":"range"}]},
 "mark":{"type":"rect"},
 "encoding":{"x":{"field":"x1","type":"quantitative","scale":{"domain":[-2.4,125],"nice":false,"zero":false},"axis":null},"x2":{"field":"x2"},"y":{"field":"p1","type":"quantitative","scale":{"domain":[1989,2195.5],"nice":false,"zero":false},"axis":null},"y2":{"field":"p2"},
  "color":{"condition":[{"test":"datum.kind=='gap'","value":"rgba(205,220,0,0.9)"},{"test":"datum.kind=='range'","value":"rgba(175,160,145,0.6)"}],"value":"rgba(100,150,160,0.45)"}}},
{"data":{"values":[
 {"g":"a","kind":"resist","d":52,"p":2193.3},{"g":"a","kind":"resist","d":61.2,"p":2193.3},
 {"g":"b","kind":"level","d":11.1,"p":2052.4},{"g":"b","kind":"level","d":20,"p":2052.4},
 {"g":"c","kind":"level","d":60.8,"p":2161},{"g":"c","kind":"level","d":66,"p":2161},
 {"g":"e","kind":"trend","d":15.4,"p":2115.3},{"g":"e","kind":"trend","d":26.7,"p":2108.8},
 {"g":"f","kind":"breakout","d":26.3,"p":2135},{"g":"f","kind":"breakout","d":86.3,"p":2135},
 {"g":"h","kind":"breakout","d":61.8,"p":2151.3},{"g":"h","kind":"breakout","d":86,"p":2151.3}]},
 "mark":{"type":"line"},
 "encoding":{"x":{"field":"d","type":"quantitative","scale":{"domain":[-2.4,125],"nice":false,"zero":false},"axis":null},"y":{"field":"p","type":"quantitative","scale":{"domain":[1989,2195.5],"nice":false,"zero":false},"axis":null},"detail":{"field":"g"},
  "color":{"condition":{"test":"datum.kind=='trend'","value":"#000000"},"value":"#1414e6"},
  "strokeDash":{"condition":[{"test":"datum.kind=='level'","value":[1.5,1.5]},{"test":"datum.kind=='trend'","value":[4,2]},{"test":"datum.kind=='breakout'","value":[6,2,1.5,2]}],"value":[1,0]},
  "strokeWidth":{"condition":{"test":"datum.kind=='trend'","value":2},"value":1.5}}},
{"data":{"values":[{"x1":26.6,"x2":34.2,"p1":2112.0,"p2":2101.2},{"x1":36.7,"x2":54.8,"p1":2140.5,"p2":2128.3},{"x1":51.8,"x2":62.4,"p1":2213.4,"p2":2196.3},{"x1":93.8,"x2":115.2,"p1":2174.9,"p2":2151.4},{"x1":71.1,"x2":77.7,"p1":2114.8,"p2":2103.1},{"x1":21.9,"x2":31.6,"p1":2013.1,"p2":1999.6}]},
 "mark":{"type":"rect","fill":"#ffffff","stroke":"#7a7a7a","strokeWidth":0.8},
 "encoding":{"x":{"field":"x1","type":"quantitative","scale":{"domain":[-2.4,125],"nice":false,"zero":false},"axis":null},"x2":{"field":"x2"},"y":{"field":"p1","type":"quantitative","scale":{"domain":[1989,2195.5],"nice":false,"zero":false},"axis":null},"y2":{"field":"p2"}}},
{"data":{"values":[{"d":94.4,"p":2168.7,"t":"Sp'500, Daily'5"},{"d":94.4,"p":2156.9,"t":"4mth, closeup view"},{"d":71.7,"p":2108.9,"t":"2119"},{"d":22.5,"p":2006.3,"t":"1991.68"}]},
 "mark":{"type":"text","align":"left","baseline":"middle","fontSize":11,"color":"#111"},
 "encoding":{"x":{"field":"d","type":"quantitative","scale":{"domain":[-2.4,125],"nice":false,"zero":false},"axis":null},"y":{"field":"p","type":"quantitative","scale":{"domain":[1989,2195.5],"nice":false,"zero":false},"axis":null},"text":{"field":"t"}}},
{"data":{"values":[{"d":27.3,"p":2106.6,"t":"BREAK"}]},
 "mark":{"type":"text","align":"left","baseline":"middle","fontSize":10,"color":"#222"},
 "encoding":{"x":{"field":"d","type":"quantitative","scale":{"domain":[-2.4,125],"nice":false,"zero":false},"axis":null},"y":{"field":"p","type":"quantitative","scale":{"domain":[1989,2195.5],"nice":false,"zero":false},"axis":null},"text":{"field":"t"}}},
{"data":{"values":[{"d":37.1,"p":2134.4,"t":"Breakout level of 2134"},{"d":52.2,"p":2207.7,"t":"micro double"},{"d":52.2,"p":2200.6,"t":"top 2193"}]},
 "mark":{"type":"text","align":"left","baseline":"middle","fontSize":8.5,"color":"#222"},
 "encoding":{"x":{"field":"d","type":"quantitative","scale":{"domain":[-2.4,125],"nice":false,"zero":false},"axis":null},"y":{"field":"p","type":"quantitative","scale":{"domain":[1989,2195.5],"nice":false,"zero":false},"axis":null},"text":{"field":"t"}}},
{"data":{"values":[{"d":-1.2,"p":2193.9,"t":"$SPX (Daily) 2151.13","kind":"px"},{"d":-1.2,"p":2188.75,"t":"BB(20,2.0) 2118.02 - 2157.16 - 2196.31","kind":"bb"},{"d":-2.0,"p":2184.1,"t":"–MA(10) 2155.16","kind":"ma10"},{"d":-2.0,"p":2179.2,"t":"–MA(50) 2169.27","kind":"ma50"},{"d":-2.0,"p":2174.8,"t":"–MA(200) 2063.14","kind":"ma200"}]},
 "mark":{"type":"text","align":"left","baseline":"middle","fontSize":6.3},
 "encoding":{"x":{"field":"d","type":"quantitative","scale":{"domain":[-2.4,125],"nice":false,"zero":false},"axis":null},"y":{"field":"p","type":"quantitative","scale":{"domain":[1989,2195.5],"nice":false,"zero":false},"axis":null},"text":{"field":"t"},
  "color":{"condition":[{"test":"datum.kind=='bb'","value":"#9a9a9a"},{"test":"datum.kind=='ma10'","value":"#d03040"},{"test":"datum.kind=='ma50'","value":"#4a704a"},{"test":"datum.kind=='ma200'","value":"#303090"}],"value":"#333333"}}},
{"data":{"values":[{"d":125,"p":2196.31,"t":"2196.31","kind":"g"},{"d":125,"p":2169.27,"t":"2169.27","kind":"g"},{"d":125,"p":2158.4,"t":"2157.16","kind":"r"},{"d":125,"p":2151.13,"t":"2151.13","kind":"b"},{"d":125,"p":2118.02,"t":"2118.02","kind":"g"},{"d":125,"p":2063.14,"t":"2063.14","kind":"g"}]},
 "mark":{"type":"text","align":"left","baseline":"middle","fontSize":6.3,"dx":2},
 "encoding":{"x":{"field":"d","type":"quantitative","scale":{"domain":[-2.4,125],"nice":false,"zero":false},"axis":null},"y":{"field":"p","type":"quantitative","scale":{"domain":[1989,2195.5],"nice":false,"zero":false},"axis":null},"text":{"field":"t"},
  "color":{"condition":[{"test":"datum.kind=='r'","value":"#d03040"},{"test":"datum.kind=='b'","value":"#000000"}],"value":"#555555"}}}
]
},
{
"width":609,"height":8,"view":{"fill":null,"stroke":null},
"data":{"values":[{"a":1}]},
"mark":{"type":"point","opacity":0},
"encoding":{}
},
{
"width":609,"height":88,
"resolve":{"axis":{"x":"independent","y":"independent"}},
"layer":[
{"data":{"name":"px"},"mark":{"type":"bar","size":3.6,"fill":"#4393c8","stroke":"#2a6791","strokeWidth":0.6},
 "encoding":{
  "x":{"field":"d","type":"quantitative","scale":{"domain":[-2.4,125],"nice":false,"zero":false},"axis":{"values":[0,3,8,13,18,22,27,32,37,42,47,52,57,62,65,67,71,76,81,86,91,96,101,107,111,116,121],"labels":false,"ticks":false,"domain":false,"grid":true,"gridColor":{"condition":{"test":"indexof([0,22,42,65,86,107],datum.value)>=0","value":"#a8a8bc"},"value":"#c6c6d8"},"title":null}},
  "y":{"field":"hist","type":"quantitative","scale":{"domain":[-9.0,9.72],"nice":false,"zero":false},"axis":{"orient":"right","values":[-8,-6,-4,-2,0,2,4,6,8],"format":"d","labelExpr":"datum.value==0 ? '' : datum.label","labelOverlap":false,"labelFontSize":7,"labelColor":"#555555","labelPadding":1,"tickSize":3,"tickColor":"#777777","domain":false,"grid":true,"gridColor":"#c6c6d8","title":null}},
  "y2":{"datum":0}}},
{"data":{"values":[
 {"g":"r1","kind":"dn","d":30.0,"v":9.45},{"g":"r1","kind":"dn","d":45.3,"v":3.06},
 {"g":"r2","kind":"dn","d":48.2,"v":1.28},{"g":"r2","kind":"dn","d":50.1,"v":0.21},
 {"g":"r3","kind":"dn","d":55.1,"v":1.43},{"g":"r3","kind":"dn","d":57.2,"v":0.51},
 {"g":"r4","kind":"dn","d":59.1,"v":1.43},{"g":"r4","kind":"dn","d":61.2,"v":0.36},
 {"g":"r5","kind":"dn","d":63.3,"v":1.06},{"g":"r5","kind":"dn","d":65.4,"v":0.0},
 {"g":"r6","kind":"dn","d":69.1,"v":1.43},{"g":"r6","kind":"dn","d":73.1,"v":0.21},
 {"g":"r7","kind":"dn","d":89.2,"v":2.64},{"g":"r7","kind":"dn","d":91.3,"v":1.43},
 {"g":"b1","kind":"up","d":45.3,"v":-4.04},{"g":"b1","kind":"up","d":49.2,"v":-2.62},
 {"g":"b2","kind":"up","d":61.2,"v":-4.6},{"g":"b2","kind":"up","d":62.8,"v":-4.04},
 {"g":"b3","kind":"up","d":65.4,"v":-4.04},{"g":"b3","kind":"up","d":69.3,"v":-1.98},
 {"g":"b4","kind":"up","d":73.1,"v":-8.0},{"g":"b4","kind":"up","d":87.1,"v":-0.21},
 {"g":"b5","kind":"up","d":93.2,"v":-2.47},{"g":"b5","kind":"up","d":98.2,"v":-0.64}]},
 "mark":{"type":"line","strokeWidth":1.3},
 "encoding":{"x":{"field":"d","type":"quantitative","scale":{"domain":[-2.4,125],"nice":false,"zero":false},"axis":null},"y":{"field":"v","type":"quantitative","scale":{"domain":[-9.0,9.72],"nice":false,"zero":false},"axis":null},"detail":{"field":"g"},
  "color":{"condition":{"test":"datum.kind=='dn'","value":"#ee1515"},"value":"#1515ee"}}},
{"data":{"values":[{"d":-2.0,"v":9.0,"t":"■MACD(12,26,9) Hist 1.204"}]},"mark":{"type":"text","align":"left","baseline":"middle","fontSize":6.5,"color":"#333"},
 "encoding":{"x":{"field":"d","type":"quantitative","scale":{"domain":[-2.4,125],"nice":false,"zero":false},"axis":null},"y":{"field":"v","type":"quantitative","scale":{"domain":[-9.0,9.72],"nice":false,"zero":false},"axis":null},"text":{"field":"t"}}},
{"data":{"values":[{"d":125,"v":0.6,"t":"1.204"}]},"mark":{"type":"text","align":"left","baseline":"middle","fontSize":6.3,"color":"#3a7fb0","dx":2},
 "encoding":{"x":{"field":"d","type":"quantitative","scale":{"domain":[-2.4,125],"nice":false,"zero":false},"axis":null},"y":{"field":"v","type":"quantitative","scale":{"domain":[-9.0,9.72],"nice":false,"zero":false},"axis":null},"text":{"field":"t"}}}
]
},
{
"width":609,"height":89,
"resolve":{"axis":{"x":"independent","y":"independent"}},
"layer":[
{"data":{"name":"px"},"mark":{"type":"bar","size":3.6,"fill":"#4393c8","stroke":"#2a6791","strokeWidth":0.6},
 "encoding":{
  "x":{"field":"d","type":"quantitative","scale":{"domain":[-2.4,125],"nice":false,"zero":false},"axis":{"values":[0,3,8,13,18,22,27,32,37,42,47,52,57,62,65,67,71,76,81,86,91,96,101,107,111,116,121],"labels":false,"ticks":false,"domain":false,"grid":true,"gridColor":{"condition":{"test":"indexof([0,22,42,65,86,107],datum.value)>=0","value":"#a8a8bc"},"value":"#c6c6d8"},"title":null}},
  "y":{"field":"hist","type":"quantitative","scale":{"domain":[-10.5,26.2],"nice":false,"zero":false},"axis":{"orient":"right","values":[-10,-5,0,5,10,15,20,25],"format":"d","labelExpr":"(datum.value==0 || datum.value==-5) ? '' : datum.label","labelOverlap":false,"labelFontSize":7,"labelColor":"#555555","labelPadding":1,"tickSize":3,"tickColor":"#777777","domain":false,"grid":true,"gridColor":"#c6c6d8","title":null}},
  "y2":{"datum":0}}},
{"data":{"name":"px"},"mark":{"type":"line","color":"#f05a5a","strokeWidth":1,"clip":true},
 "encoding":{"x":{"field":"d","type":"quantitative","scale":{"domain":[-2.4,125],"nice":false,"zero":false},"axis":null},"y":{"field":"sig","type":"quantitative","scale":{"domain":[-10.5,26.2],"nice":false,"zero":false},"axis":null}}},
{"data":{"name":"px"},"mark":{"type":"line","color":"#1a1a1a","strokeWidth":1.2,"clip":true},
 "encoding":{"x":{"field":"d","type":"quantitative","scale":{"domain":[-2.4,125],"nice":false,"zero":false},"axis":null},"y":{"field":"macd","type":"quantitative","scale":{"domain":[-10.5,26.2],"nice":false,"zero":false},"axis":null}}},
{"data":{"values":[{"d":-2.0,"v":24.7,"t":"– MACD(12,26,9) -2.175,","kind":"m"},{"d":14.5,"v":24.7,"t":"-3.379,","kind":"s"},{"d":18.9,"v":24.7,"t":"1.204","kind":"h"}]},
 "mark":{"type":"text","align":"left","baseline":"middle","fontSize":6.5},
 "encoding":{"x":{"field":"d","type":"quantitative","scale":{"domain":[-2.4,125],"nice":false,"zero":false},"axis":null},"y":{"field":"v","type":"quantitative","scale":{"domain":[-10.5,26.2],"nice":false,"zero":false},"axis":null},"text":{"field":"t"},
  "color":{"condition":[{"test":"datum.kind=='s'","value":"#e05050"},{"test":"datum.kind=='h'","value":"#4a97c9"}],"value":"#444444"}}},
{"data":{"values":[{"d":125,"v":1.6,"t":"1.204","kind":"h"},{"d":125,"v":-2.175,"t":"-2.175","kind":"m"},{"d":125,"v":-5.8,"t":"-3.379","kind":"s"}]},
 "mark":{"type":"text","align":"left","baseline":"middle","fontSize":6.3,"dx":2},
 "encoding":{"x":{"field":"d","type":"quantitative","scale":{"domain":[-2.4,125],"nice":false,"zero":false},"axis":null},"y":{"field":"v","type":"quantitative","scale":{"domain":[-10.5,26.2],"nice":false,"zero":false},"axis":null},"text":{"field":"t"},
  "color":{"condition":[{"test":"datum.kind=='s'","value":"#e05050"},{"test":"datum.kind=='h'","value":"#3a7fb0"}],"value":"#333333"}}}
]
},
{
"width":609,"height":89,
"resolve":{"axis":{"x":"independent","y":"independent"}},
"layer":[
{"data":{"name":"px"},"mark":{"type":"line","color":"#f05a5a","strokeWidth":1,"clip":true},
 "encoding":{
  "x":{"field":"d","type":"quantitative","scale":{"domain":[-2.4,125],"nice":false,"zero":false},"axis":{"orient":"bottom","values":[0,3,8,13,18,22,27,32,37,42,47,52,57,62,65,67,71,76,81,86,91,96,101,107,111,116,121],"labelExpr":"['Jun','6','13','20','27','Jul','11','18','25','Aug','8','15','22','29','Sep','6','12','19','26','Oct','10','17','24','Nov','7','14','21'][indexof([0,3,8,13,18,22,27,32,37,42,47,52,57,62,65,67,71,76,81,86,91,96,101,107,111,116,121],datum.value)]","labelFontSize":7,"labelFontWeight":{"condition":{"test":"indexof([0,22,42,65,86,107],datum.value)>=0","value":"bold"},"value":"normal"},"labelColor":"#222222","labelPadding":1,"labelOverlap":false,"labelFlush":false,"ticks":false,"domain":false,"grid":true,"gridColor":{"condition":{"test":"indexof([0,22,42,65,86,107],datum.value)>=0","value":"#a8a8bc"},"value":"#c6c6d8"},"title":null}},
  "y":{"field":"dk","type":"quantitative","scale":{"domain":[-3.8,105],"nice":false,"zero":false},"axis":{"orient":"right","values":[20,50,80],"format":"d","labelOverlap":false,"labelFontSize":7,"labelColor":"#555555","labelPadding":1,"tickSize":3,"tickColor":"#777777","domain":false,"grid":false,"title":null}}}},
{"data":{"values":[{"v":80},{"v":20}]},"mark":{"type":"rule","color":"#8a8a9e","strokeWidth":1},
 "encoding":{"y":{"field":"v","type":"quantitative","scale":{"domain":[-3.8,105],"nice":false,"zero":false},"axis":null}}},
{"data":{"values":[{"v":50}]},"mark":{"type":"rule","color":"#9a9aae","strokeWidth":1,"strokeDash":[6,2,2,2]},
 "encoding":{"y":{"field":"v","type":"quantitative","scale":{"domain":[-3.8,105],"nice":false,"zero":false},"axis":null}}},
{"data":{"name":"px"},"mark":{"type":"line","color":"#1a1a1a","strokeWidth":1.2,"clip":true},
 "encoding":{"x":{"field":"d","type":"quantitative","scale":{"domain":[-2.4,125],"nice":false,"zero":false},"axis":null},"y":{"field":"k","type":"quantitative","scale":{"domain":[-3.8,105],"nice":false,"zero":false},"axis":null}}},
{"data":{"values":[{"d":-2.0,"v":100.5,"t":"– Full STO %K(14,3) %D(3) 66.81,","kind":"k"},{"d":19.3,"v":100.5,"t":"61.67","kind":"d"}]},
 "mark":{"type":"text","align":"left","baseline":"middle","fontSize":6.5},
 "encoding":{"x":{"field":"d","type":"quantitative","scale":{"domain":[-2.4,125],"nice":false,"zero":false},"axis":null},"y":{"field":"v","type":"quantitative","scale":{"domain":[-3.8,105],"nice":false,"zero":false},"axis":null},"text":{"field":"t"},
  "color":{"condition":{"test":"datum.kind=='d'","value":"#e05050"},"value":"#444444"}}},
{"data":{"values":[{"d":125,"v":68.5,"t":"66.81","kind":"k"},{"d":125,"v":60.5,"t":"61.67","kind":"d"}]},
 "mark":{"type":"text","align":"left","baseline":"middle","fontSize":6.3,"dx":2},
 "encoding":{"x":{"field":"d","type":"quantitative","scale":{"domain":[-2.4,125],"nice":false,"zero":false},"axis":null},"y":{"field":"v","type":"quantitative","scale":{"domain":[-3.8,105],"nice":false,"zero":false},"axis":null},"text":{"field":"t"},
  "color":{"condition":{"test":"datum.kind=='d'","value":"#e05050"},"value":"#333333"}}}
]
}
],
"spacing":0,
"bounds":"flush",
"config":{
 "font":"Liberation Sans",
 "view":{"fill":"#dcdcea","stroke":"#9090a4","strokeWidth":1}
}
}
